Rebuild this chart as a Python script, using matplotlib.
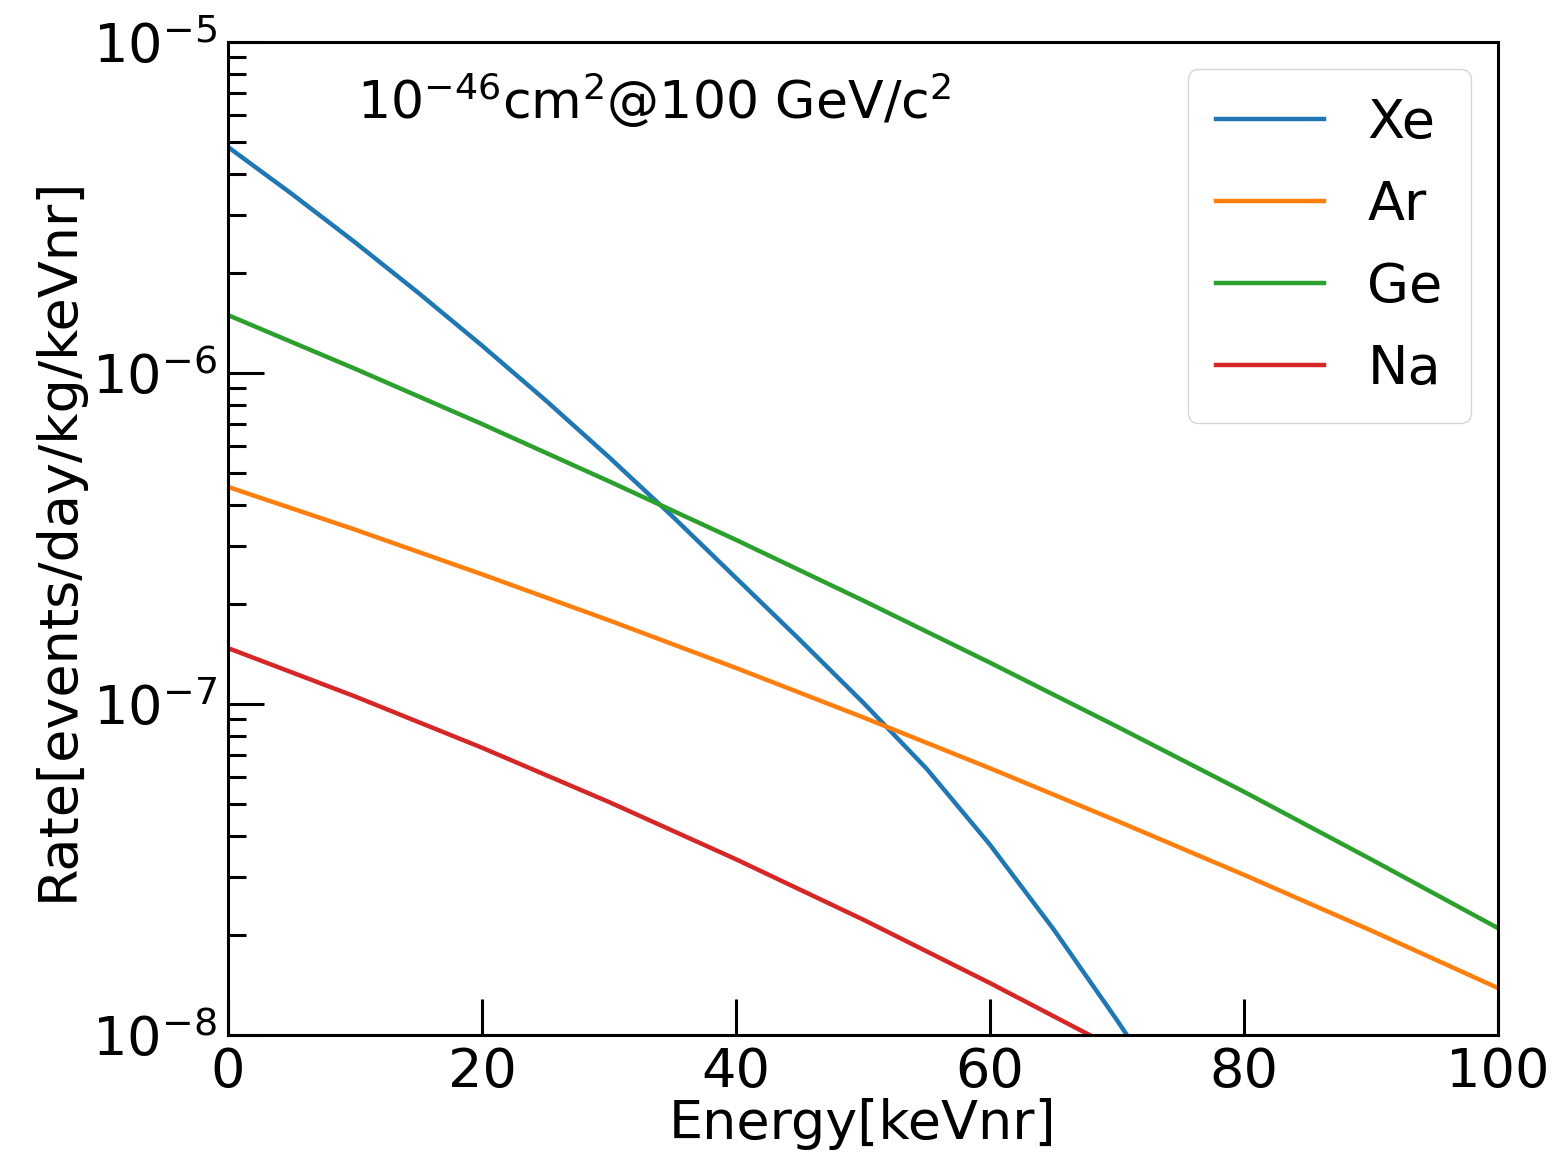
import matplotlib
matplotlib.use("Agg")
import matplotlib.pyplot as plt
import numpy as np

# energies [keVnr] and log10(rate)
e_xe = [0, 5, 10, 15, 20, 25, 30, 35, 40, 45, 50, 55, 60, 65, 70, 72]
log_xe = [-5.317, -5.458, -5.605, -5.758, -5.917, -6.082, -6.254, -6.433, -6.619,
          -6.805, -6.995, -7.195, -7.425, -7.68, -7.955, -8.07]

e_ar = [0, 10, 20, 30, 40, 50, 60, 70, 80, 90, 100]
log_ar = [-6.344, -6.473, -6.608, -6.747, -6.891, -7.040, -7.194, -7.353, -7.516, -7.684, -7.858]

e_ge = [0, 10, 20, 30, 40, 50, 60, 70, 80, 90, 100]
log_ge = [-5.825, -5.987, -6.154, -6.327, -6.504, -6.687, -6.875, -7.068, -7.265, -7.469, -7.677]

e_na = [0, 10, 20, 30, 40, 50, 60, 70]
log_na = [-6.831, -6.977, -7.132, -7.296, -7.469, -7.651, -7.843, -8.043]

series = [("Xe", e_xe, log_xe), ("Ar", e_ar, log_ar), ("Ge", e_ge, log_ge), ("Na", e_na, log_na)]
colors = ["#1f77b4", "#ff7f0e", "#2ca02c", "#d62728"]

fs = 39
fig = plt.figure(figsize=(15.56, 11.64), dpi=100)
ax = fig.add_axes([0.1465, 0.1108, 0.9627 - 0.1465, 0.9639 - 0.1108])

for (name, e, lg), c in zip(series, colors):
    ax.plot(e, 10.0 ** np.array(lg), color=c, lw=3.2, label=name)

ax.set_yscale("log")
ax.set_xlim(0, 100)
ax.set_ylim(1e-8, 1e-5)
ax.set_xticks([0, 20, 40, 60, 80, 100])

ax.tick_params(which="both", direction="in", top=False, right=False, labelsize=fs, pad=8)
ax.tick_params(which="major", length=26, width=2.2)
ax.tick_params(which="minor", length=13, width=2.2)
for sp in ax.spines.values():
    sp.set_linewidth(2.2)

ax.set_xlabel("Energy[keVnr]", fontsize=fs, labelpad=0)
ax.set_ylabel("Rate[events/day/kg/keVnr]", fontsize=fs, labelpad=6)

ax.text(0.102, 0.942, r"$10^{-46}$cm$^2$@100 GeV/c$^2$", transform=ax.transAxes,
        fontsize=37.5, va="center", ha="left")

ax.legend(loc="upper right", fontsize=fs, handlelength=2.0, labelspacing=0.55,
          handletextpad=0.8, borderpad=0.52)

fig.savefig("out.png", dpi=100)
